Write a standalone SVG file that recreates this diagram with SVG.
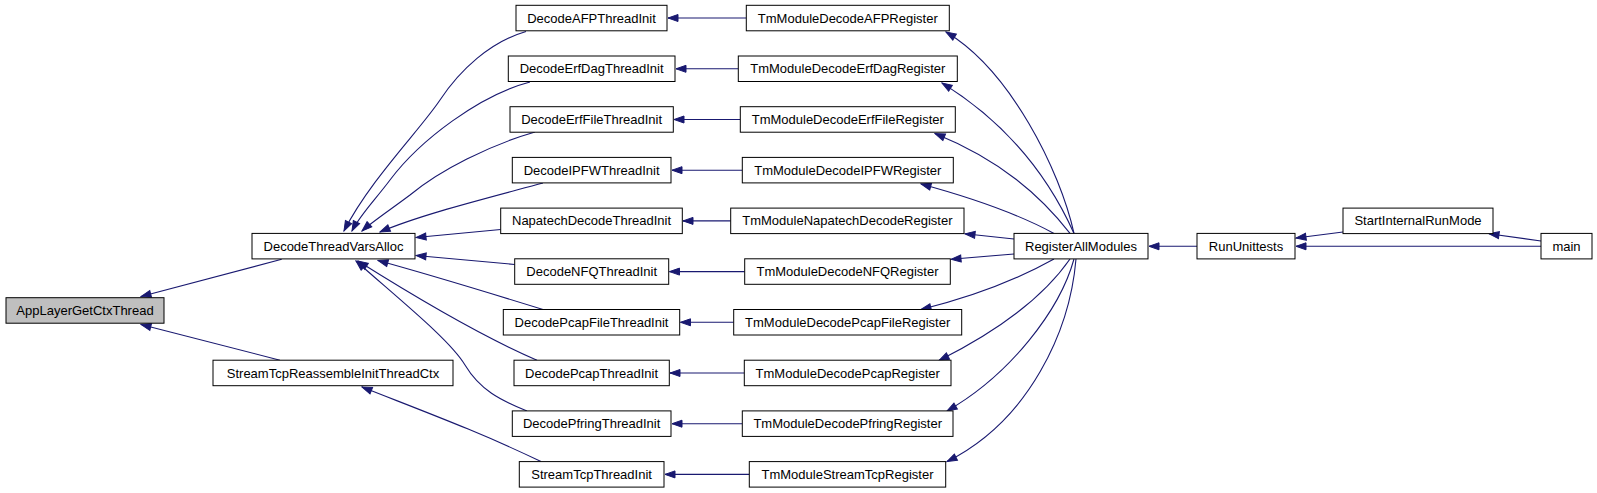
<svg xmlns="http://www.w3.org/2000/svg" width="1597" height="493" viewBox="0 0 1597 493">
<style>
.n rect{fill:#fff;stroke:#000;stroke-width:1}
.n.h rect{fill:#bfbfbf}
.n text{font-family:"Liberation Sans",Arial,Helvetica,sans-serif;font-size:13px;fill:#000;text-anchor:middle}
.e path{fill:none;stroke:#191970;stroke-width:1.1;marker-end:url(#ah)}
</style>
<defs>
<marker id="ah" markerUnits="userSpaceOnUse" markerWidth="12" markerHeight="10" viewBox="0 0 12 10" refX="11" refY="5" orient="auto"><path d="M1,1.5 L11,5 L1,8.5 Z" fill="#191970" stroke="#191970"/></marker>
</defs>
<rect width="1597" height="493" fill="#fff"/>
<g id="connectors" class="e">
<path d="M281.7,259.3 L141,296.5"/>
<path d="M280,360.2 L141,324.5"/>
<path d="M541,461.6 C480,432 420,410 362,387"/>
<path d="M526,31.5 C490,42 460,70 440,100 C420,130 370,180 344,231"/>
<path d="M530,82 C480,95 420,140 390,180 C375,200 360,215 352,231"/>
<path d="M535,132 C490,145 440,170 410,195 C390,210 372,222 362,231"/>
<path d="M543,183 C480,200 420,215 380,232"/>
<path d="M500.7,229.5 L416,237.5"/>
<path d="M514.7,264.5 L416,255.5"/>
<path d="M543,309.5 C480,290 420,272 378,260.5"/>
<path d="M537,360.2 C490,340 420,300 358,261"/>
<path d="M527,411 C500,400 480,390 465,365 C450,340 400,300 356,261"/>
<path d="M746.3,18 L668,18"/>
<path d="M738.3,68.8 L676,68.8"/>
<path d="M740.3,119.5 L674,119.5"/>
<path d="M742.3,170.2 L672,170.2"/>
<path d="M730.7,220.9 L683,220.9"/>
<path d="M744.7,271.6 L669.5,271.6"/>
<path d="M733.7,322.3 L680.5,322.3"/>
<path d="M744.3,373 L670,373"/>
<path d="M742.3,423.7 L672,423.7"/>
<path d="M749.3,474.4 L665,474.4"/>
<path d="M1074,233.4 C1060,170 1010,70 946,32"/>
<path d="M1074,233.4 C1050,180 1010,125 942,83"/>
<path d="M1070,233.4 C1040,195 1000,160 935,133.5"/>
<path d="M1054,233.4 C1020,215 980,200 921,184"/>
<path d="M1014,239 L965,233.8"/>
<path d="M1014,254 L951,259.3"/>
<path d="M1054,259 C1020,278 980,295 921,309.5"/>
<path d="M1070,259 C1045,295 1000,330 939,360.5"/>
<path d="M1074,259 C1060,310 1010,375 947,411"/>
<path d="M1076,259 C1070,330 1030,420 947,461.6"/>
<path d="M1197,246.3 L1149,246.3"/>
<path d="M1343,232 L1296,238"/>
<path d="M1541,246.3 L1296,246.3"/>
<path d="M1541,241 L1489,233.8"/>
</g>
<g id="AppLayerGetCtxThread" class="n h"><rect x="6" y="297.7" width="158" height="25.5"/><text x="85" y="315">AppLayerGetCtxThread</text></g>
<g id="DecodeThreadVarsAlloc" class="n"><rect x="252" y="233.4" width="163" height="25.5"/><text x="333.5" y="250.7">DecodeThreadVarsAlloc</text></g>
<g id="StreamTcpReassembleInitThreadCtx" class="n"><rect x="213" y="360.2" width="240" height="25.5"/><text x="333" y="377.5">StreamTcpReassembleInitThreadCtx</text></g>
<g id="DecodeAFPThreadInit" class="n"><rect x="516" y="5.3" width="151" height="25.5"/><text x="591.5" y="22.6">DecodeAFPThreadInit</text></g>
<g id="DecodeErfDagThreadInit" class="n"><rect x="508.3" y="56" width="166.7" height="25.5"/><text x="591.6" y="73.3">DecodeErfDagThreadInit</text></g>
<g id="DecodeErfFileThreadInit" class="n"><rect x="510" y="106.7" width="163.3" height="25.5"/><text x="591.6" y="124">DecodeErfFileThreadInit</text></g>
<g id="DecodeIPFWThreadInit" class="n"><rect x="512.3" y="157.4" width="158.7" height="25.5"/><text x="591.6" y="174.7">DecodeIPFWThreadInit</text></g>
<g id="NapatechDecodeThreadInit" class="n"><rect x="500.7" y="208.1" width="181.6" height="25.5"/><text x="591.5" y="225.4">NapatechDecodeThreadInit</text></g>
<g id="DecodeNFQThreadInit" class="n"><rect x="514.7" y="258.8" width="154" height="25.5"/><text x="591.7" y="276.1">DecodeNFQThreadInit</text></g>
<g id="DecodePcapFileThreadInit" class="n"><rect x="503.3" y="309.5" width="176.4" height="25.5"/><text x="591.5" y="326.8">DecodePcapFileThreadInit</text></g>
<g id="DecodePcapThreadInit" class="n"><rect x="514" y="360.2" width="155.3" height="25.5"/><text x="591.6" y="377.5">DecodePcapThreadInit</text></g>
<g id="DecodePfringThreadInit" class="n"><rect x="512.3" y="410.9" width="158.7" height="25.5"/><text x="591.6" y="428.2">DecodePfringThreadInit</text></g>
<g id="StreamTcpThreadInit" class="n"><rect x="519.3" y="461.6" width="144.7" height="25.5"/><text x="591.6" y="478.9">StreamTcpThreadInit</text></g>
<g id="TmModuleDecodeAFPRegister" class="n"><rect x="746.3" y="5.3" width="203" height="25.5"/><text x="847.8" y="22.6">TmModuleDecodeAFPRegister</text></g>
<g id="TmModuleDecodeErfDagRegister" class="n"><rect x="738.3" y="56" width="219" height="25.5"/><text x="847.8" y="73.3">TmModuleDecodeErfDagRegister</text></g>
<g id="TmModuleDecodeErfFileRegister" class="n"><rect x="740.3" y="106.7" width="215" height="25.5"/><text x="847.8" y="124">TmModuleDecodeErfFileRegister</text></g>
<g id="TmModuleDecodeIPFWRegister" class="n"><rect x="742.3" y="157.4" width="211" height="25.5"/><text x="847.8" y="174.7">TmModuleDecodeIPFWRegister</text></g>
<g id="TmModuleNapatechDecodeRegister" class="n"><rect x="730.7" y="208.1" width="233.3" height="25.5"/><text x="847.4" y="225.4">TmModuleNapatechDecodeRegister</text></g>
<g id="TmModuleDecodeNFQRegister" class="n"><rect x="744.7" y="258.8" width="205.6" height="25.5"/><text x="847.5" y="276.1">TmModuleDecodeNFQRegister</text></g>
<g id="TmModuleDecodePcapFileRegister" class="n"><rect x="733.7" y="309.5" width="228" height="25.5"/><text x="847.7" y="326.8">TmModuleDecodePcapFileRegister</text></g>
<g id="TmModuleDecodePcapRegister" class="n"><rect x="744.3" y="360.2" width="206.7" height="25.5"/><text x="847.7" y="377.5">TmModuleDecodePcapRegister</text></g>
<g id="TmModuleDecodePfringRegister" class="n"><rect x="742.3" y="410.9" width="210.7" height="25.5"/><text x="847.7" y="428.2">TmModuleDecodePfringRegister</text></g>
<g id="TmModuleStreamTcpRegister" class="n"><rect x="749.3" y="461.6" width="196.4" height="25.5"/><text x="847.5" y="478.9">TmModuleStreamTcpRegister</text></g>
<g id="RegisterAllModules" class="n"><rect x="1014" y="233.4" width="134" height="25.5"/><text x="1081" y="250.7">RegisterAllModules</text></g>
<g id="RunUnittests" class="n"><rect x="1197" y="233.4" width="98" height="25.5"/><text x="1246" y="250.7">RunUnittests</text></g>
<g id="StartInternalRunMode" class="n"><rect x="1343" y="208.1" width="150" height="25.5"/><text x="1418" y="225.4">StartInternalRunMode</text></g>
<g id="main" class="n"><rect x="1541" y="233.4" width="51" height="25.5"/><text x="1566.5" y="250.7">main</text></g>
</svg>
